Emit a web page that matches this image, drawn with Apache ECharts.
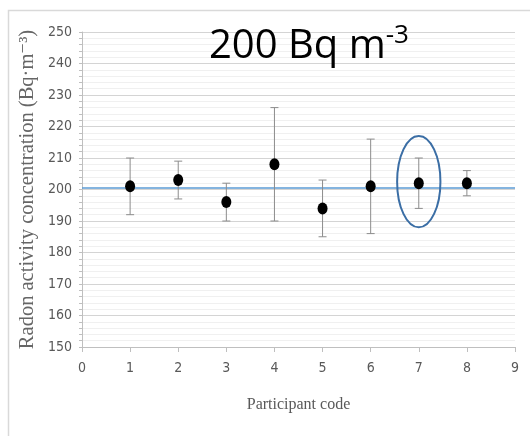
<!DOCTYPE html>
<html>
<head>
    <meta charset="UTF-8">
    <title>Radon activity concentration</title>
    <script src="https://cdn.jsdelivr.net/npm/echarts@6/dist/echarts.min.js"></script>
    <style>
        html, body { margin: 0; padding: 0; background: #fff; }
        #main { width: 530px; height: 436px; }
    </style>
</head>
<body>
<div id="main"></div>
<script>
    // 数据
    var participants = [1, 2, 3, 4, 5, 6, 7, 8];
    var means = [201, 203, 196, 208, 194, 201, 202, 202];
    var upper = [210, 209, 202, 226, 203, 216, 210, 206];
    var lower = [192, 197, 190, 190, 185, 186, 194, 198];
    var refValue = 200.5;
    var xTicks = [0, 1, 2, 3, 4, 5, 6, 7, 8, 9];
    var yTicks = [150, 160, 170, 180, 190, 200, 210, 220, 230, 240, 250];
    var highlighted = [7];

    var pointData = [], errData = [];
    for (var i = 0; i < participants.length; i++) {
        pointData.push([participants[i], means[i]]);
        errData.push([participants[i], lower[i], upper[i], means[i]]);
    }
    var circled = [];
    for (var j = 0; j < highlighted.length; j++) {
        var k = participants.indexOf(highlighted[j]);
        circled.push([participants[k], (lower[k] + upper[k]) / 2 + 0.5]);
    }

    var tickFont = '"Liberation Sans Narrow", "DejaVu Sans Condensed", sans-serif';
    var serifFont = '"Liberation Serif", "DejaVu Serif", serif';

    var myChart = echarts.init(document.getElementById('main'));
    var option = {
        animation: false,
        title: {
            text: '200 Bq m{sup|-3}',
            left: 204,
            top: 18,
            textStyle: {
                fontFamily: '"Open Sans", "Noto Sans", sans-serif',
                fontSize: 40,
                fontWeight: 'normal',
                color: '#000',
                rich: {
                    sup: {
                        fontFamily: '"Open Sans", "Noto Sans", sans-serif',
                        fontSize: 26,
                        color: '#000',
                        verticalAlign: 'top',
                        padding: [0, 0, 22, 0]
                    }
                }
            }
        },
        graphic: [{
            type: 'rect',
            shape: { x: 8.5, y: 10.5, width: 540, height: 440 },
            style: { fill: 'none', stroke: '#d9d9d9', lineWidth: 1.5 },
            silent: true
        }],
        grid: { left: 82, right: 15, top: 32, bottom: 89 },
        xAxis: {
            type: 'value',
            min: xTicks[0],
            max: xTicks[xTicks.length - 1],
            interval: 1,
            name: 'Participant code',
            nameLocation: 'middle',
            nameGap: 50,
            nameMoveOverlap: false,
            nameTextStyle: { fontFamily: serifFont, fontSize: 16, color: '#595959' },
            axisLine: { show: true, lineStyle: { color: '#bfbfbf' } },
            axisTick: { show: true, length: 5, lineStyle: { color: '#bfbfbf' } },
            axisLabel: { fontFamily: tickFont, fontSize: 14, color: '#595959', margin: 14 },
            splitLine: { show: false }
        },
        yAxis: {
            type: 'value',
            min: yTicks[0],
            max: yTicks[yTicks.length - 1],
            interval: 10,
            name: 'Radon activity concentration (Bq·m⁻³)',
            nameLocation: 'middle',
            nameGap: 44,
            nameMoveOverlap: false,
            nameTextStyle: { fontFamily: serifFont, fontSize: 20.5, color: '#666666' },
            axisLine: { show: true, lineStyle: { color: '#bfbfbf' } },
            axisTick: { show: true, length: 3, lineStyle: { color: '#bfbfbf' } },
            minorTick: { show: true, splitNumber: 5, length: 3, lineStyle: { color: '#bfbfbf' } },
            axisLabel: { fontFamily: tickFont, fontSize: 14, color: '#595959', margin: 10 },
            splitLine: { show: true, lineStyle: { color: '#d4d4d4', width: 1 } },
            minorSplitLine: { show: true, lineStyle: { color: '#f0f0f0', width: 1 } }
        },
        series: [
            {
                name: 'ref',
                type: 'line',
                data: [[xTicks[0], refValue], [xTicks[xTicks.length - 1], refValue]],
                symbol: 'none',
                lineStyle: { color: '#5b9bd5', width: 1.5 },
                z: 3
            },
            {
                name: 'error',
                type: 'custom',
                data: errData,
                z: 4,
                renderItem: function (params, api) {
                    var x = api.value(0);
                    var lo = api.coord([x, api.value(1)]);
                    var hi = api.coord([x, api.value(2)]);
                    var cap = 4;
                    var st = { stroke: '#8c8c8c', lineWidth: 1 };
                    return {
                        type: 'group',
                        children: [
                            { type: 'line', shape: { x1: hi[0], y1: hi[1], x2: lo[0], y2: lo[1] }, style: st },
                            { type: 'line', shape: { x1: hi[0] - cap, y1: hi[1], x2: hi[0] + cap, y2: hi[1] }, style: st },
                            { type: 'line', shape: { x1: lo[0] - cap, y1: lo[1], x2: lo[0] + cap, y2: lo[1] }, style: st }
                        ]
                    };
                }
            },
            {
                name: 'mean',
                type: 'scatter',
                data: pointData,
                symbol: 'circle',
                symbolSize: [10, 12],
                itemStyle: { color: '#000', opacity: 1 },
                z: 5
            },
            {
                name: 'circle',
                type: 'custom',
                data: circled,
                z: 6,
                renderItem: function (params, api) {
                    var c = api.coord([api.value(0), api.value(1)]);
                    var s = api.size([0.45, 14.5]);
                    return {
                        type: 'ellipse',
                        shape: { cx: c[0], cy: c[1], rx: s[0], ry: s[1] },
                        style: { fill: 'none', stroke: '#3b6ea5', lineWidth: 2 }
                    };
                }
            }
        ]
    };
    myChart.setOption(option);
</script>
</body>
</html>
